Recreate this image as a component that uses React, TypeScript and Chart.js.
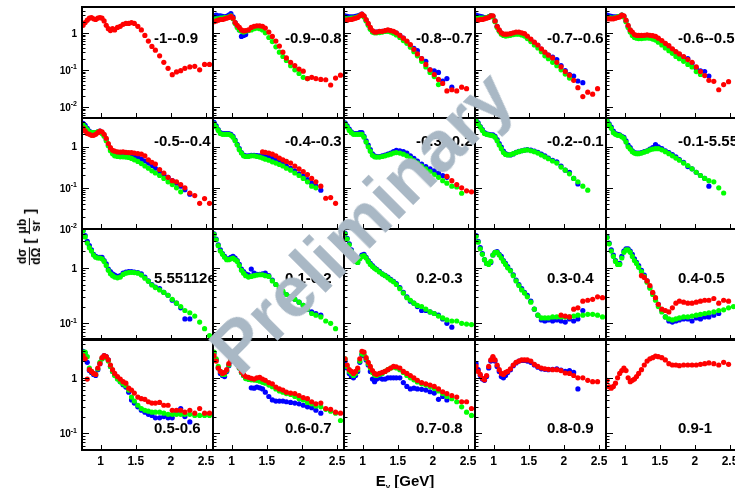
import { useEffect, useRef } from "react";
import { Chart, registerables } from "chart.js";

Chart.register(...registerables);

const _ = null;

// Photon energy bins (GeV) shared by every series
const ENERGY = [
  0.75, 0.78, 0.81, 0.84, 0.87, 0.9, 0.93, 0.96, 0.99, 1.02, 1.05, 1.08, 1.11, 1.14, 1.17, 1.2,
  1.24, 1.28, 1.32, 1.36, 1.4, 1.44, 1.48,
  1.53, 1.58, 1.63, 1.68, 1.73, 1.78,
  1.84, 1.9, 1.96, 2.02, 2.08, 2.14, 2.2,
  2.27, 2.34, 2.41, 2.48, 2.55,
];

// cos(theta) bin labels, row by row
const BIN_LABELS = [
  "-1--0.9", "-0.9--0.8", "-0.8--0.7", "-0.7--0.6", "-0.6--0.5",
  "-0.5--0.4", "-0.4--0.3", "-0.3--0.2", "-0.2--0.1", "-0.1-5.55112e-17",
  "5.55112e-17-0.1", "0.1-0.2", "0.2-0.3", "0.3-0.4", "0.4-0.5",
  "0.5-0.6", "0.6-0.7", "0.7-0.8", "0.8-0.9", "0.9-1",
];

const X_TICKS = [1, 1.5, 2, 2.5];
const X_TICK_LABELS = ["1", "1.5", "2", "2.5"];
const X_RANGE = [0.735, 2.6];
const Y_MAX = 5;
const ROW_Y_MIN = [0.005, 0.01, 0.05, 0.05];

// ---- dσ/dΩ [μb/sr] per cos(theta) bin: red, green, blue data sets ----
const P00_RED = [1.6, 1.9, 2.2, 2.5, 2.6, 2.4, 2.3, 2.5, 2.6, 2.5, 2.1, 1.6, 1.3, 1.15, 1.3, 1.2,
  1.4, 1.5, 1.7, 1.8, 1.8, 1.9, 1.8,
  1.5, 1.2, 0.85, 0.6, 0.43, 0.34,
  0.24, 0.16, 0.11, 0.074, 0.088, 0.095, 0.11,
  0.12, 0.125, 0.1, 0.14, 0.14];

const P01_RED = [2.0, 2.1, 2.2, 2.3, 2.3, 2.4, 2.5, 2.6, 2.8, 2.5, 1.9, 1.6, 1.4, 1.2, 1.13, 1.15,
  1.2, 1.4, 1.5, 1.55, 1.55, 1.5, 1.35,
  1.05, 0.8, 0.6, 0.44, 0.3, 0.21,
  0.16, 0.13, 0.105, 0.092, 0.058, 0.063, 0.058,
  0.055, 0.054, 0.039, 0.06, 0.072];
const P01_GREEN = [2.3, 2.4, 2.4, 2.5, 2.5, 2.6, 2.6, 2.7, 2.9, 2.4, 1.8, 1.4, 1.2, 1.1, 1.05, 1.1,
  1.15, 1.2, 1.3, 1.35, 1.3, 1.2, 1.0,
  0.75, 0.58, 0.42, 0.3, 0.23, 0.18,
  0.13, 0.1, 0.08, 0.063, 0.058, _, _,
  _, _, _, _, _];
const P01_BLUE = [2.9, 3.0, 2.9, 2.9, 2.8, 2.7, 2.8, 3.0, 3.3, 2.7, 1.9, 1.5, 1.2, 0.8, 0.85, 0.9,
  _, _, _, _, _, _, _,
  _, _, _, _, _, _,
  _, _, _, _, _, _, _,
  _, _, _, _, _];

const P02_RED = [2.2, 2.2, 2.3, 2.3, 2.4, 2.5, 2.6, 2.9, 3.2, 2.9, 2.3, 1.8, 1.4, 1.15, 1.05, 1.05,
  1.1, 1.1, 1.15, 1.2, 1.15, 1.1, 1.0,
  0.85, 0.72, 0.6, 0.48, 0.36, 0.27,
  0.2, 0.14, 0.1, 0.075, 0.055, 0.043, 0.027,
  0.029, 0.027, 0.034, 0.031, _];
const P02_GREEN = [2.4, 2.4, 2.4, 2.5, 2.5, 2.6, 2.7, 2.9, 3.1, 2.7, 2.1, 1.6, 1.25, 1.05, 1.0, 1.0,
  1.02, 1.05, 1.1, 1.1, 1.05, 0.98, 0.88,
  0.75, 0.62, 0.52, 0.41, 0.31, 0.24,
  0.17, 0.12, 0.085, 0.066, 0.04, _, _,
  _, _, _, _, _];
const P02_BLUE = [2.9, 2.8, 2.7, 2.7, 2.7, 2.8, 2.9, 3.0, 3.2, 2.8, 2.2, 1.7, 1.3, 1.1, 1.05, 1.05,
  1.08, 1.1, 1.12, 1.15, 1.12, 1.05, 0.98,
  0.85, 0.72, 0.58, 0.44, 0.38, 0.33,
  0.2, 0.17, 0.1, 0.094, 0.085, 0.05, 0.058,
  0.034, _, _, _, _];

const P03_RED = [2.2, 2.2, 2.3, 2.3, 2.4, 2.5, 2.6, 2.9, 2.9, 2.1, 1.5, 1.2, 1.0, 0.93, 0.92, 0.93,
  0.95, 1.0, 1.05, 1.05, 1.0, 0.95, 0.82,
  0.68, 0.56, 0.47, 0.37, 0.3, 0.25,
  0.21, 0.16, 0.12, 0.09, 0.072, 0.052, 0.033,
  0.019, 0.025, 0.022, 0.031, _];
const P03_GREEN = [2.5, 2.5, 2.5, 2.5, 2.5, 2.6, 2.7, 2.9, 2.7, 2.0, 1.4, 1.1, 0.92, 0.85, 0.82, 0.84,
  0.86, 0.9, 0.92, 0.92, 0.88, 0.82, 0.7,
  0.58, 0.47, 0.39, 0.31, 0.24, 0.2,
  0.16, 0.13, 0.1, 0.077, 0.06, _, _,
  _, _, _, _, _];
const P03_BLUE = [3.0, 2.9, 2.8, 2.7, 2.6, 2.6, 2.7, 2.9, 2.8, 2.1, 1.5, 1.15, 0.98, 0.9, 0.88, 0.9,
  0.92, 0.95, 1.0, 1.0, 0.95, 0.9, 0.78,
  0.65, 0.54, 0.45, 0.36, 0.29, 0.25,
  0.22, 0.19, 0.13, 0.095, 0.075, 0.068, 0.05,
  0.045, _, _, _, _];

const P04_RED = [2.4, 2.4, 2.4, 2.4, 2.5, 2.6, 2.7, 3.0, 2.9, 2.2, 1.6, 1.2, 1.05, 0.9, 0.86, 0.85,
  0.85, 0.86, 0.88, 0.86, 0.84, 0.8, 0.72,
  0.62, 0.52, 0.45, 0.37, 0.31, 0.27,
  0.23, 0.19, 0.16, 0.12, 0.09, 0.07, 0.052,
  0.049, 0.029, 0.04, 0.048, _];
const P04_GREEN = [2.6, 2.6, 2.5, 2.5, 2.6, 2.7, 2.8, 3.0, 2.7, 2.0, 1.4, 1.05, 0.85, 0.75, 0.72, 0.7,
  0.7, 0.72, 0.73, 0.72, 0.68, 0.64, 0.56,
  0.47, 0.39, 0.33, 0.28, 0.23, 0.2,
  0.17, 0.14, 0.12, 0.09, 0.075, _, _,
  _, _, _, _, _];
const P04_BLUE = [3.0, 2.9, 2.8, 2.7, 2.7, 2.7, 2.8, 3.0, 2.8, 2.1, 1.5, 1.15, 0.95, 0.85, 0.8, 0.8,
  0.8, 0.81, 0.83, 0.82, 0.8, 0.76, 0.68,
  0.58, 0.48, 0.41, 0.35, 0.3, 0.26,
  0.22, 0.2, 0.15, 0.11, 0.094, 0.09, 0.068,
  _, _, _, _, _];

const P10_RED = [2.8, 2.4, 2.1, 2.0, 1.9, 1.9, 2.0, 2.2, 2.4, 2.3, 2.0, 1.6, 1.2, 0.95, 0.82, 0.78,
  0.75, 0.74, 0.75, 0.73, 0.72, 0.72, 0.7,
  0.68, 0.66, 0.6, 0.48, 0.42, 0.38,
  0.28, 0.23, 0.18, 0.15, 0.14, 0.12, 0.1,
  0.075, 0.065, 0.042, 0.055, 0.042];
const P10_GREEN = [3.4, 3.0, 2.6, 2.3, 2.2, 2.2, 2.2, 2.3, 2.3, 2.1, 1.8, 1.4, 1.05, 0.8, 0.68, 0.6,
  0.58, 0.57, 0.57, 0.56, 0.55, 0.52, 0.48,
  0.44, 0.39, 0.34, 0.3, 0.26, 0.23,
  0.2, 0.17, 0.14, 0.12, 0.1, 0.08, _,
  _, _, _, _, _];
const P10_BLUE = [3.7, 3.3, 2.8, 2.4, 2.2, 2.2, 2.2, 2.3, 2.4, 2.2, 1.9, 1.5, 1.1, 0.85, 0.73, 0.68,
  0.66, 0.66, 0.68, 0.67, 0.65, 0.62, 0.58,
  0.55, 0.5, 0.45, 0.4, 0.35, 0.3,
  0.25, 0.21, 0.18, 0.15, 0.13, 0.11, 0.09,
  0.07, _, _, _, _];

const P11_RED = [_, _, _, _, _, _, _, _, _, _, _, _, _, _, _, _,
  _, _, _, _, _, 0.75, 0.73,
  0.7, 0.66, 0.6, 0.53, 0.48, 0.44,
  0.4, 0.34, 0.29, 0.25, 0.21, 0.17, 0.14,
  0.11, 0.056, 0.058, 0.042, _];
const P11_GREEN = [3.6, 3.0, 2.5, 2.1, 2.0, 2.0, 2.0, 2.0, 1.9, 1.7, 1.4, 1.1, 0.85, 0.7, 0.6, 0.58,
  0.58, 0.6, 0.6, 0.58, 0.56, 0.53, 0.5,
  0.47, 0.43, 0.4, 0.37, 0.34, 0.3,
  0.27, 0.23, 0.2, 0.17, 0.14, 0.11, 0.1,
  _, _, _, _, _];
const P11_BLUE = [3.9, 3.2, 2.6, 2.2, 2.1, 2.1, 2.1, 2.1, 2.0, 1.8, 1.45, 1.15, 0.9, 0.72, 0.63, 0.6,
  0.6, 0.62, 0.62, 0.61, 0.6, 0.6, 0.58,
  0.56, 0.52, 0.48, 0.43, 0.38, 0.34,
  0.3, 0.26, 0.22, 0.19, 0.16, 0.13, 0.11,
  0.088, _, _, _, _];

const P12_RED = [_, _, _, _, _, _, _, _, _, _, _, _, _, _, _, _,
  _, _, _, _, _, _, _,
  _, _, _, _, _, _,
  _, _, _, _, _, _, 0.19,
  0.15, 0.12, 0.1, 0.085, 0.08];
const P12_GREEN = [3.6, 3.0, 2.5, 2.2, 2.0, 2.0, 2.0, 2.0, 2.0, 1.7, 1.3, 1.0, 0.78, 0.62, 0.57, 0.56,
  0.56, 0.58, 0.6, 0.63, 0.66, 0.7, 0.72,
  0.7, 0.66, 0.6, 0.53, 0.46, 0.4,
  0.34, 0.29, 0.25, 0.21, 0.18, 0.15, 0.13,
  0.11, 0.105, 0.074, _, _];
const P12_BLUE = [3.8, 3.2, 2.7, 2.3, 2.1, 2.1, 2.1, 2.2, 2.2, 1.8, 1.4, 1.1, 0.85, 0.67, 0.6, 0.58,
  0.58, 0.6, 0.63, 0.66, 0.7, 0.76, 0.82,
  0.8, 0.76, 0.7, 0.6, 0.52, 0.45,
  0.38, 0.33, 0.29, 0.26, 0.23, 0.2, 0.18,
  _, _, _, _, _];

const P13_GREEN = [4.2, 3.6, 3.0, 2.5, 2.1, 2.0, 1.95, 1.9, 1.85, 1.7, 1.4, 1.1, 0.9, 0.72, 0.65, 0.63,
  0.64, 0.68, 0.72, 0.76, 0.8, 0.82, 0.84,
  0.8, 0.76, 0.7, 0.63, 0.57, 0.51,
  0.45, 0.4, 0.32, 0.27, 0.22, 0.17, 0.14,
  0.11, 0.088, _, _, _];
const P13_BLUE = [4.3, 3.8, 3.1, 2.6, 2.2, 2.05, 2.0, 1.95, 1.95, 1.8, 1.5, 1.2, 0.98, 0.78, 0.68, 0.64,
  0.63, 0.67, 0.73, 0.77, 0.8, 0.83, 0.85,
  0.83, 0.78, 0.73, 0.66, 0.6, 0.53,
  0.47, 0.43, 0.34, 0.27, 0.24, 0.17, 0.125,
  _, _, _, _, _];

const P14_GREEN = [4.2, 3.4, 2.8, 2.2, 2.0, 1.9, 1.9, 1.75, 1.6, 1.3, 1.0, 0.88, 0.76, 0.7, 0.68, 0.68,
  0.7, 0.74, 0.78, 0.84, 0.88, 0.9, 0.9,
  0.84, 0.76, 0.68, 0.6, 0.53, 0.47,
  0.4, 0.35, 0.29, 0.24, 0.2, 0.17, 0.15,
  0.14, 0.1, 0.075, _, _];
const P14_BLUE = [4.3, 3.6, 3.0, 2.4, 2.1, 2.0, 1.95, 1.8, 1.7, 1.4, 1.1, 0.95, 0.8, 0.72, 0.7, 0.7,
  0.72, 0.76, 0.8, 0.88, 0.95, 1.12, 1.0,
  0.9, 0.8, 0.72, 0.64, 0.57, 0.49,
  0.42, 0.33, 0.29, 0.24, 0.2, 0.17, 0.11,
  _, _, _, _, _];

const P20_GREEN = [4.6, 3.6, 2.8, 2.3, 2.0, 1.7, 1.55, 1.5, 1.5, 1.45, 1.3, 1.1, 0.9, 0.78, 0.72, 0.68,
  0.66, 0.68, 0.76, 0.8, 0.82, 0.83, 0.82,
  0.8, 0.74, 0.65, 0.57, 0.49, 0.44,
  0.4, 0.36, 0.32, 0.27, 0.23, 0.2, 0.17,
  0.155, 0.135, 0.105, 0.08, 0.06];
const P20_BLUE = [4.7, 3.8, 3.0, 2.5, 2.1, 1.75, 1.6, 1.55, 1.55, 1.55, 1.35, 1.18, 0.95, 0.85, 0.78, 0.74,
  0.7, 0.72, 0.8, 0.84, 0.85, 0.85, 0.84,
  0.82, 0.78, 0.68, 0.58, 0.5, 0.45,
  0.42, 0.36, 0.32, 0.26, 0.23, 0.19, 0.12,
  0.12, _, _, _, _];

const P21_GREEN = [4.0, 3.2, 2.5, 2.0, 1.75, 1.55, 1.4, 1.4, 1.45, 1.5, 1.4, 1.3, 1.1, 0.9, 0.8, 0.72,
  0.68, 0.7, 0.72, 0.74, 0.75, 0.75, 0.72,
  0.7, 0.58, 0.5, 0.44, 0.38, 0.33,
  0.3, 0.27, 0.24, 0.21, 0.18, 0.15, 0.14,
  0.13, 0.11, 0.1, 0.08, _];
const P21_BLUE = [4.1, 3.3, 2.6, 2.1, 1.8, 1.6, 1.45, 1.45, 1.55, 1.6, 1.5, 1.35, 1.15, 0.95, 0.85, 0.78,
  0.75, 0.95, 0.8, 0.76, 0.76, 0.78, 0.8,
  0.72, 0.6, 0.5, 0.42, 0.36, 0.33,
  0.3, 0.27, 0.24, 0.21, 0.18, 0.16, 0.15,
  0.14, _, _, _, _];

const P22_GREEN = [4.1, 3.3, 2.6, 2.0, 1.6, 1.3, 1.25, 1.45, 1.6, 1.65, 1.5, 1.3, 1.15, 1.05, 0.98, 0.92,
  0.84, 0.77, 0.72, 0.66, 0.6, 0.56, 0.5,
  0.42, 0.35, 0.29, 0.26, 0.23, 0.21,
  0.2, 0.18, 0.16, 0.15, 0.135, 0.125, 0.115,
  0.11, 0.11, 0.1, 0.097, 0.095];
const P22_BLUE = [4.2, 3.4, 2.7, 2.1, 1.7, 1.35, 1.25, 1.5, 1.7, 1.75, 1.55, 1.35, 1.2, 1.1, 1.0, 0.94,
  0.86, 0.78, 0.73, 0.68, 0.62, 0.57, 0.52,
  0.44, 0.36, 0.3, 0.25, 0.23, 0.2,
  0.17, 0.17, 0.16, 0.15, 0.14, 0.12, 0.1,
  0.085, _, _, _, _];

const P23_RED = [_, _, _, _, _, _, _, _, _, _, _, _, _, _, _, _,
  _, _, _, _, _, _, _,
  _, _, _, _, _, _,
  _, _, 0.14, 0.135, 0.13, 0.18, 0.19,
  0.25, 0.26, 0.27, 0.3, 0.29];
const P23_GREEN = [3.7, 2.9, 2.2, 1.75, 1.4, 1.2, 1.15, 1.3, 1.7, 1.9, 1.9, 1.7, 1.5, 1.3, 1.15, 1.0,
  0.88, 0.72, 0.58, 0.48, 0.4, 0.35, 0.3,
  0.24, 0.18, 0.14, 0.125, 0.125, 0.125,
  0.13, 0.13, 0.13, 0.13, 0.13, 0.135, 0.14,
  0.14, 0.145, 0.145, 0.14, 0.13];
const P23_BLUE = [3.8, 3.0, 2.3, 1.8, 1.4, 1.2, 1.18, 1.25, 1.7, 1.9, 1.95, 1.75, 1.6, 1.35, 1.2, 1.05,
  0.9, 0.75, 0.6, 0.5, 0.42, 0.36, 0.32,
  0.25, 0.18, 0.14, 0.115, 0.11, 0.115,
  0.11, 0.115, 0.11, 0.105, 0.12, 0.11, 0.12,
  0.17, _, _, _, _];

const P24_RED = [_, _, _, _, _, _, _, _, _, _, _, _, _, _, _, _,
  0.72, 0.67, 0.58, 0.48, 0.36, 0.29, 0.22,
  0.18, 0.17, 0.16, 0.19, 0.23, 0.25,
  0.24, 0.23, 0.23, 0.24, 0.25, 0.26, 0.26,
  0.28, 0.23, 0.26, 0.25, _];
const P24_GREEN = [3.5, 2.7, 2.0, 1.6, 1.3, 1.15, 1.15, 1.5, 1.9, 2.1, 2.1, 1.9, 1.6, 1.35, 1.2, 1.02,
  0.85, 0.7, 0.55, 0.43, 0.33, 0.26, 0.2,
  0.16, 0.13, 0.12, 0.115, 0.12, 0.125,
  0.13, 0.13, 0.135, 0.14, 0.145, 0.15, 0.155,
  0.16, 0.17, 0.175, 0.19, 0.2];
const P24_BLUE = [3.6, 2.8, 2.1, 1.7, 1.35, 1.2, 1.2, 1.6, 2.0, 2.2, 2.2, 2.0, 1.75, 1.45, 1.25, 1.1,
  0.9, 0.74, 0.58, 0.45, 0.35, 0.28, 0.22,
  0.17, 0.13, 0.11, 0.105, 0.11, 0.115,
  0.12, 0.12, 0.11, 0.125, 0.12, 0.13, 0.13,
  0.14, 0.15, _, _, _];

const P30_RED = [2.5, 2.2, 0.95, 1.4, 1.3, 1.2, 1.15, 1.5, 1.8, 2.3, 2.5, 2.4, 2.1, 1.7, 1.4, 1.2,
  1.05, 0.95, 0.85, 0.8, 0.65, 0.6, 0.53,
  0.45, 0.42, 0.41, 0.37, 0.35, 0.35,
  0.36, 0.32, 0.32, 0.26, 0.26, 0.26, 0.24,
  0.26, 0.23, 0.28, 0.23, 0.23];
const P30_GREEN = [2.9, 2.9, 2.4, 1.5, 1.3, 1.2, 1.15, 1.45, 1.9, 2.2, 2.4, 2.3, 2.0, 1.6, 1.3, 1.1,
  0.95, 0.85, 0.78, 0.72, 0.6, 0.45, 0.38,
  0.32, 0.28, 0.26, 0.25, 0.24, 0.24,
  0.24, 0.23, 0.22, 0.22, 0.22, 0.22, 0.22,
  0.22, 0.21, 0.21, 0.21, 0.21];
const P30_BLUE = [3.0, 2.8, 1.9, 1.36, 1.25, 1.15, 1.1, 1.4, 1.8, 2.2, 2.5, 2.4, 2.1, 1.6, 1.3, 1.15,
  0.98, 0.85, 0.75, 0.68, 0.55, 0.4, 0.35,
  0.3, 0.26, 0.24, 0.22, 0.21, 0.19,
  0.19, 0.2, 0.19, 0.19, 0.25, 0.28, 0.2,
  0.16, _, _, _, _];

const P31_RED = [2.5, 2.0, 1.5, 1.3, 1.2, 1.25, 1.4, 1.8, 2.1, 2.2, 2.0, 1.8, 1.55, 1.3, 1.15, 1.05,
  1.02, 0.98, 0.95, 1.0, 1.02, 0.95, 0.9,
  0.82, 0.78, 0.68, 0.63, 0.6, 0.55,
  0.53, 0.52, 0.48, 0.44, 0.42, 0.37, 0.34,
  0.35, 0.28, 0.27, 0.24, 0.23];
const P31_GREEN = [2.9, 2.2, 1.6, 1.3, 1.15, 1.15, 1.35, 1.7, 2.1, 2.2, 2.0, 1.75, 1.5, 1.25, 1.1, 0.97,
  0.94, 0.92, 0.91, 0.9, 0.87, 0.83, 0.8,
  0.74, 0.69, 0.63, 0.58, 0.55, 0.52,
  0.5, 0.46, 0.42, 0.4, 0.36, 0.34, 0.31,
  0.3, 0.27, 0.25, 0.23, 0.17];
const P31_BLUE = [2.8, 2.1, 1.5, 1.2, 1.1, 1.05, 1.3, 1.65, 2.0, 2.2, 2.0, 1.75, 1.5, 1.25, 1.1, 1.0,
  0.95, 0.66, 0.65, 0.68, 0.66, 0.63, 0.55,
  0.46, 0.4, 0.38, 0.38, 0.38, 0.37,
  0.36, 0.35, 0.34, 0.32, 0.3, 0.29, 0.26,
  0.23, _, _, _, _];

const P32_RED = [2.2, 1.7, 1.4, 1.3, 1.2, 1.3, 1.5, 2.2, 3.0, 2.9, 2.3, 1.9, 1.6, 1.35, 1.2, 1.15,
  1.2, 1.25, 1.3, 1.4, 1.5, 1.6, 1.58,
  1.5, 1.3, 1.2, 1.1, 1.0, 0.9,
  0.82, 0.78, 0.74, 0.7, 0.63, 0.56, 0.52,
  0.48, 0.45, 0.37, 0.37, 0.28];
const P32_GREEN = [2.2, 1.6, 1.3, 1.2, 1.1, 1.2, 1.4, 2.0, 2.7, 2.6, 2.2, 1.8, 1.5, 1.25, 1.12, 1.1,
  1.15, 1.2, 1.3, 1.4, 1.5, 1.55, 1.5,
  1.4, 1.25, 1.1, 1.0, 0.92, 0.84,
  0.78, 0.74, 0.7, 0.64, 0.58, 0.52, 0.46,
  0.42, 0.37, 0.3, 0.24, 0.21];
const P32_BLUE = [2.0, 1.5, 1.2, 1.05, 1.0, 1.1, 1.3, 1.9, 2.6, 2.5, 2.1, 1.7, 1.3, 0.95, 0.85, 0.95,
  1.0, 0.95, 0.95, 1.0, 1.0, 1.0, 1.0,
  1.0, 0.82, 0.7, 0.63, 0.65, 0.63,
  0.62, 0.6, 0.56, 0.53, 0.41, 0.46, 0.4,
  _, _, _, _, _];

const P33_RED = [1.6, 1.3, 1.15, 0.98, 0.92, 1.1, 1.6, 2.1, 2.4, 2.1, 1.7, 1.4, 1.2, 1.15, 1.25, 1.3,
  1.45, 1.7, 1.9, 2.0, 2.1, 2.1, 2.1,
  2.0, 1.75, 1.6, 1.5, 1.45, 1.42,
  1.4, 1.4, 1.35, 1.22, 1.2, 1.1, 1.0,
  1.0, 0.9, 0.85, 0.85, _];
const P33_BLUE = [1.8, 1.4, 1.1, 0.95, 0.9, 1.05, 1.5, 2.0, 2.3, 2.0, 1.6, 1.3, 1.05, 1.0, 1.1, 1.25,
  1.4, 1.65, 1.85, 2.0, 2.05, 2.05, 2.0,
  1.9, 1.7, 1.55, 1.45, 1.42, 1.4,
  1.42, 1.45, 1.38, 1.3, 1.35, 1.25, 0.63,
  _, _, _, _, _];

const P34_RED = [0.9, 0.69, 0.65, 0.7, 0.8, 1.0, 1.2, 1.35, 1.5, 1.35, 1.0, 0.85, 0.9, 0.95, 1.05, 1.2,
  1.4, 1.7, 2.0, 2.2, 2.3, 2.45, 2.4,
  2.3, 2.1, 1.8, 1.7, 1.7, 1.65,
  1.7, 1.7, 1.7, 1.7, 1.75, 1.8, 1.85,
  1.8, 1.7, 1.9, 1.75, _];

type Series = (number | null)[] | null;

// [red, green, blue] for each panel, row-major
const PANEL_SERIES: Series[][] = [
  [P00_RED, null, null], [P01_RED, P01_GREEN, P01_BLUE], [P02_RED, P02_GREEN, P02_BLUE],
  [P03_RED, P03_GREEN, P03_BLUE], [P04_RED, P04_GREEN, P04_BLUE],
  [P10_RED, P10_GREEN, P10_BLUE], [P11_RED, P11_GREEN, P11_BLUE], [P12_RED, P12_GREEN, P12_BLUE],
  [null, P13_GREEN, P13_BLUE], [null, P14_GREEN, P14_BLUE],
  [null, P20_GREEN, P20_BLUE], [null, P21_GREEN, P21_BLUE], [null, P22_GREEN, P22_BLUE],
  [P23_RED, P23_GREEN, P23_BLUE], [P24_RED, P24_GREEN, P24_BLUE],
  [P30_RED, P30_GREEN, P30_BLUE], [P31_RED, P31_GREEN, P31_BLUE], [P32_RED, P32_GREEN, P32_BLUE],
  [P33_RED, null, P33_BLUE], [P34_RED, null, null],
];

const SERIES_COLORS = ["#ff0000", "#00ff00", "#0000ff"];

// ---- layout ----
const COL_LEFT = [82, 213, 344, 475, 606];
const ROW_TOP = [7, 118, 229, 339];
const PANEL_W = 131;
const PANEL_H = 111;
const PAD = { left: 50, right: 6, top: 6, bottom: 28 };
const LABEL_DY = [31.5, 23.5, 50, 89.5];
const FONT = '"Liberation Sans", Arial, Helvetica, sans-serif';

function drawPowerLabel(ctx: CanvasRenderingContext2D, exp: number, xRight: number, y: number) {
  ctx.textBaseline = "middle";
  ctx.textAlign = "right";
  if (exp === 0) {
    ctx.font = `bold 10px ${FONT}`;
    ctx.fillText("1", xRight, y);
    return;
  }
  const sup = String(exp);
  ctx.font = `bold 7px ${FONT}`;
  const supW = ctx.measureText(sup).width;
  ctx.fillText(sup, xRight, y - 3.5);
  ctx.font = `bold 10px ${FONT}`;
  ctx.fillText("10", xRight - supW, y);
}

function makeDecor(row: number, col: number, label: string) {
  return {
    id: "panelDecor",
    afterDatasetsDraw(chart: Chart) {
      const { ctx, chartArea: a } = chart;
      const x = chart.scales.x;
      const y = chart.scales.y;
      const yMin = y.min as number;
      const yMax = y.max as number;
      ctx.save();
      ctx.strokeStyle = "#000";
      ctx.fillStyle = "#000";
      ctx.lineWidth = 1;
      ctx.beginPath();
      // log ticks on the left edge
      const e0 = Math.floor(Math.log10(yMin));
      const e1 = Math.ceil(Math.log10(yMax));
      for (let e = e0; e <= e1; e++) {
        for (let m = 1; m <= 9; m++) {
          const v = m * Math.pow(10, e);
          if (v < yMin * 0.999 || v > yMax * 1.001) continue;
          const py = Math.round(y.getPixelForValue(v)) + 0.5;
          const len = m === 1 ? 7 : 3.5;
          ctx.moveTo(a.left, py);
          ctx.lineTo(a.left + len, py);
        }
      }
      // energy ticks on the bottom edge
      for (const t of X_TICKS) {
        const px = Math.round(x.getPixelForValue(t)) + 0.5;
        ctx.moveTo(px, a.bottom);
        ctx.lineTo(px, a.bottom - 5);
      }
      ctx.stroke();

      // frame
      ctx.lineWidth = 2;
      ctx.strokeRect(a.left, a.top, a.right - a.left, a.bottom - a.top);

      // bin label, clipped to the frame
      ctx.save();
      ctx.beginPath();
      ctx.rect(a.left, a.top, a.right - a.left, a.bottom - a.top);
      ctx.clip();
      ctx.font = `bold 15px ${FONT}`;
      ctx.textBaseline = "middle";
      ctx.textAlign = "left";
      ctx.fillText(label, a.left + 72, a.top + LABEL_DY[row]);
      ctx.restore();

      // y tick labels on the first column
      if (col === 0) {
        for (let e = e0; e <= e1; e++) {
          const v = Math.pow(10, e);
          if (v < yMin * 0.999 || v > yMax * 1.001) continue;
          drawPowerLabel(ctx, e, a.left - 5, y.getPixelForValue(v) + 1);
        }
      }
      // x tick labels on the bottom row
      if (row === 3) {
        ctx.font = `bold 12px ${FONT}`;
        ctx.textAlign = "center";
        ctx.textBaseline = "middle";
        X_TICKS.forEach((t, i) => {
          ctx.fillText(X_TICK_LABELS[i], x.getPixelForValue(t), a.bottom + 12);
        });
      }
      ctx.restore();
    },
  };
}

function toPoints(vals: Series) {
  if (!vals) return [];
  const pts: { x: number; y: number }[] = [];
  ENERGY.forEach((e, i) => {
    const v = vals[i];
    if (v !== null && v !== undefined) pts.push({ x: e, y: v });
  });
  return pts;
}

function Panel({ row, col }: { row: number; col: number }) {
  const ref = useRef<HTMLCanvasElement>(null);
  const w = PANEL_W + PAD.left + PAD.right;
  const h = PANEL_H + PAD.top + PAD.bottom;

  useEffect(() => {
    const idx = row * 5 + col;
    const series = PANEL_SERIES[idx];
    const datasets = series
      .map((vals, k) => ({
        data: toPoints(vals),
        backgroundColor: SERIES_COLORS[k],
        borderColor: SERIES_COLORS[k],
        borderWidth: 0,
        pointRadius: 2.6,
        pointHoverRadius: 2.6,
        showLine: false,
      }))
      .filter((d) => d.data.length > 0);

    const chart = new Chart(ref.current as HTMLCanvasElement, {
      type: "scatter",
      data: { datasets },
      options: {
        responsive: false,
        animation: false,
        events: [],
        layout: { padding: PAD },
        plugins: { legend: { display: false }, tooltip: { enabled: false } },
        scales: {
          x: { type: "linear", min: X_RANGE[0], max: X_RANGE[1], display: false },
          y: { type: "logarithmic", min: ROW_Y_MIN[row], max: Y_MAX, display: false },
        },
      },
      plugins: [makeDecor(row, col, BIN_LABELS[idx])],
    });
    return () => chart.destroy();
  }, [row, col]);

  return (
    <canvas
      ref={ref}
      width={w}
      height={h}
      style={{
        position: "absolute",
        left: COL_LEFT[col] - PAD.left,
        top: ROW_TOP[row] - PAD.top,
        width: w,
        height: h,
      }}
    />
  );
}

function Frac({ top, bottom }: { top: string; bottom: string }) {
  return (
    <span style={{ display: "inline-flex", flexDirection: "column", alignItems: "center", margin: "0 2px" }}>
      <span style={{ borderBottom: "1.5px solid #000", padding: "0 1px", lineHeight: 1.05 }}>{top}</span>
      <span style={{ lineHeight: 1.05 }}>{bottom}</span>
    </span>
  );
}

export default function App() {
  const panels = [];
  for (let r = 0; r < 4; r++) {
    for (let c = 0; c < 5; c++) {
      panels.push(<Panel key={`${r}-${c}`} row={r} col={c} />);
    }
  }
  return (
    <div
      style={{
        position: "fixed",
        left: 0,
        top: 0,
        width: 735,
        height: 488,
        overflow: "hidden",
        background: "#fff",
        fontFamily: FONT,
      }}
    >
      {panels}
      {/* y axis title */}
      <div
        style={{
          position: "absolute",
          left: 29,
          top: 237,
          transform: "translate(-50%, -50%) rotate(-90deg)",
          font: `bold 12px ${FONT}`,
          whiteSpace: "nowrap",
          display: "flex",
          alignItems: "center",
          color: "#000",
        }}
      >
        <Frac top="dσ" bottom="dΩ" />
        <span style={{ fontSize: 15, margin: "0 2px" }}>[</span>
        <Frac top="μb" bottom="sr" />
        <span style={{ fontSize: 15, margin: "0 2px" }}>]</span>
      </div>
      {/* x axis title */}
      <div
        style={{
          position: "absolute",
          left: 405,
          top: 480,
          transform: "translate(-50%, -50%)",
          font: `bold 15px ${FONT}`,
          whiteSpace: "nowrap",
          color: "#000",
          lineHeight: 1,
        }}
      >
        E
        <span style={{ fontSize: 8, position: "relative", top: 3 }}>γ</span> [GeV]
      </div>
      {/* watermark */}
      <div
        style={{
          position: "absolute",
          left: 361,
          top: 222,
          transform: "translate(-50%, -50%) rotate(-45deg)",
          font: `bold 72px ${FONT}`,
          lineHeight: 1,
          color: "#a9b8c5",
          whiteSpace: "nowrap",
        }}
      >
        Preliminary
      </div>
    </div>
  );
}
